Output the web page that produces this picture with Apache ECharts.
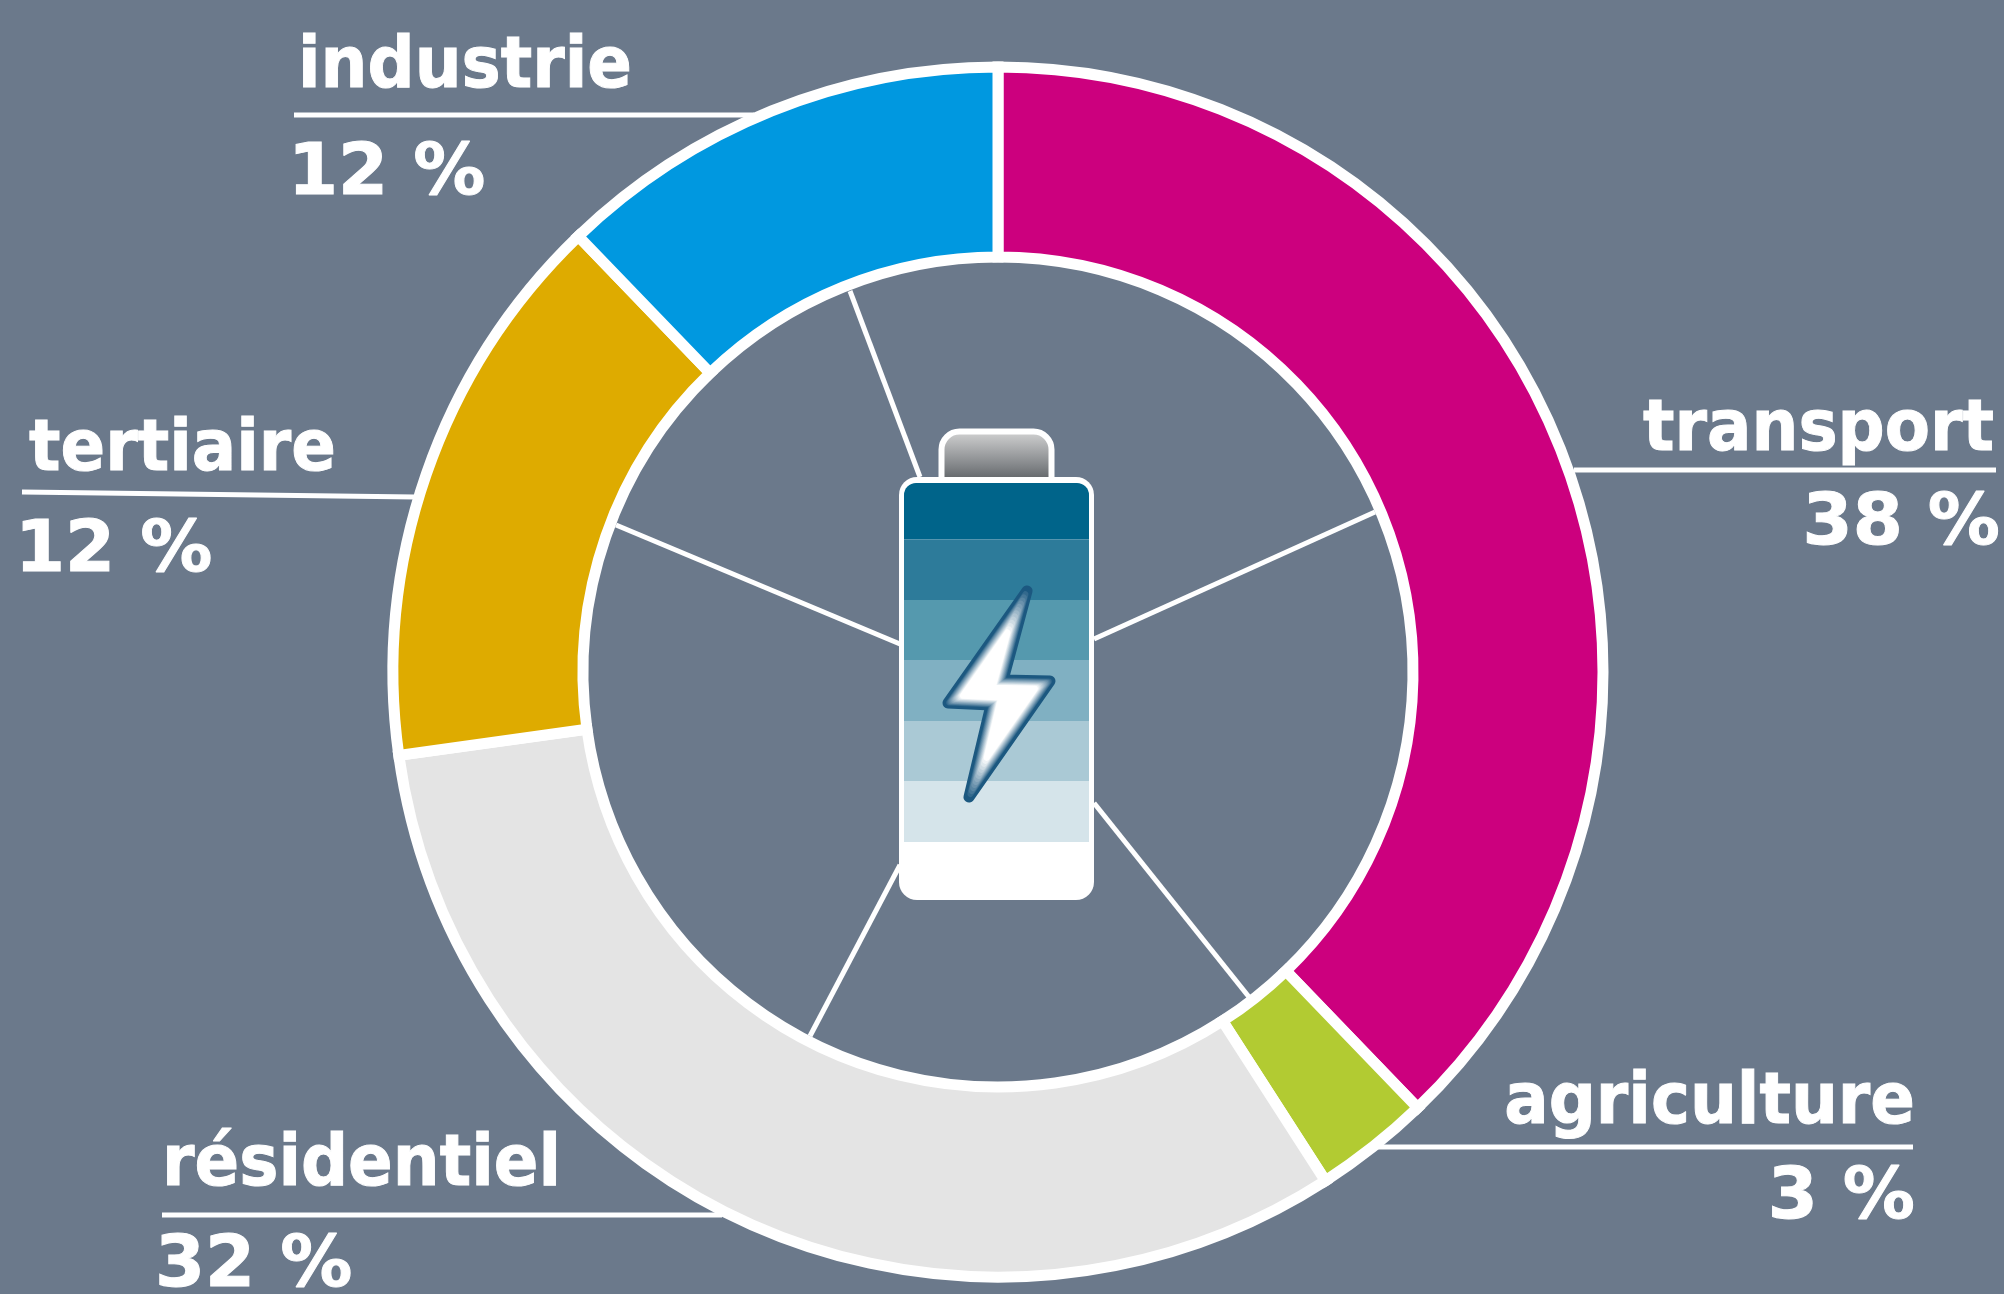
<!DOCTYPE html>
<html><head><meta charset="utf-8">
<style>html,body{margin:0;padding:0;background:#6b798b}#c{width:2004px;height:1294px}</style>
<script src="https://cdn.jsdelivr.net/npm/echarts@6/dist/echarts.min.js"></script>
</head><body><div id="c"></div>
<script>
const categories = ['transport','agriculture','résidentiel','tertiaire','industrie'];
const sliceShares = [37.8, 3.1, 31.9, 15.0, 12.2];
const printedPercent = ['38 %','3 %','32 %','12 %','12 %'];
const sliceColors = ['#cc007e','#b2cb32','#e4e4e4','#deab00','#0098e0'];
const bandColors = ['#00648a','#2d7b9a','#5599ae','#80b0c2','#aac9d5','#d5e4ea'];

const cx = 998, cy = 672;
const FONT = 'bold 72px "DejaVu Sans"';
const labelSpots = [
  {name:[1994,467,'right'], pct:[2000,561,'right'], line:[1574,470,1996,470]},
  {name:[1915,1140,'right'], pct:[1915,1235,'right'], line:[1374,1147,1913,1147]},
  {name:[162,1202,'left'], pct:[155,1303,'left'], line:[162,1215,722,1215]},
  {name:[29,487,'left'], pct:[15,588,'left'], line:[22,492,415,497]},
  {name:[298,104,'left'], pct:[288,211,'left'], line:[294,115,754,115]}
];
const spokes = [[850,291,920,477],[1375,512,1094,639],[1249,997,1094,803],[810,1036,900,865],[616,525,900,644]];
const g = [];
spokes.forEach(s=>g.push({type:'line',z:1,shape:{x1:s[0],y1:s[1],x2:s[2],y2:s[3]},style:{stroke:'#fff',lineWidth:5},silent:true}));
sliceShares.forEach((v,i)=>{
  const s = labelSpots[i];
  g.push({type:'line',z:1,shape:{x1:s.line[0],y1:s.line[1],x2:s.line[2],y2:s.line[3]},style:{stroke:'#fff',lineWidth:5},silent:true});
  g.push({type:'text',z:5,x:s.name[0],y:s.name[1],scaleX:.915,
    style:{text:categories[i],font:FONT,fill:'#fff',stroke:'#fff',lineWidth:1,textAlign:s.name[2],textVerticalAlign:'bottom'},silent:true});
  g.push({type:'text',z:5,x:s.pct[0],y:s.pct[1],
    style:{text:printedPercent[i],font:FONT,fill:'#fff',stroke:'#fff',lineWidth:1,textAlign:s.pct[2],textVerticalAlign:'bottom'},silent:true});
});
// battery
g.push({type:'rect',z:6,shape:{x:941.5,y:431.5,width:110,height:60,r:[18,18,0,0]},
  style:{fill:new echarts.graphic.LinearGradient(0,0,0,1,[{offset:0,color:'#d8d8d8'},{offset:.55,color:'#85888b'},{offset:.8,color:'#5e6265'},{offset:1,color:'#5e6265'}]),stroke:'#fff',lineWidth:6},silent:true});
g.push({type:'rect',z:7,shape:{x:899,y:477,width:195,height:423,r:18},style:{fill:'#fff'},silent:true});
const bandEdges=[483,539.5,600,660,721,781,842];
bandColors.forEach((c,i)=>{
  g.push({type:'rect',z:8,shape:{x:904,y:bandEdges[i],width:185,height:bandEdges[i+1]-bandEdges[i],r:i===0?[12,12,0,0]:0},style:{fill:c},silent:true});
});
// lightning bolt: dark rim fading into a white core
const boltOutline=[[1027,591],[1003,680],[1050,681],[969,797],[991,705],[948,703]];
function inset(pts,d){
  let area=0; pts.forEach((p,i)=>{const q=pts[(i+1)%pts.length];area+=p[0]*q[1]-q[0]*p[1];});
  const sgn=area>0?1:-1;
  return pts.map((p,i)=>{
    const a=pts[(i+pts.length-1)%pts.length], b=pts[(i+1)%pts.length];
    const n=(u,v)=>{const dx=v[0]-u[0],dy=v[1]-u[1],l=Math.hypot(dx,dy);return [-dy/l*sgn,dx/l*sgn];};
    const n1=n(a,p), n2=n(p,b);
    const mx=n1[0]+n2[0], my=n1[1]+n2[1], k=d/(1+n1[0]*n2[0]+n1[1]*n2[1]);
    return [p[0]+mx*k,p[1]+my*k];
  });
}
const LAYERS=14;
for(let k=0;k<LAYERS;k++){
  const t=k/(LAYERS-1), e=Math.pow(t,.9);
  const col=`rgb(${Math.round(28+227*e)},${Math.round(88+167*e)},${Math.round(128+127*e)})`;
  g.push({type:'polygon',z:9,shape:{points:inset(boltOutline,t*8)},
    style:{fill:col,stroke:col,lineWidth:k===0?11:6,lineJoin:'round'},silent:true});
}

const chart = echarts.init(document.getElementById('c'),null,{renderer:'canvas'});
chart.setOption({
  animation:false,
  backgroundColor:'#6b798b',
  graphic:{elements:g},
  series:[{type:'pie',center:[cx,cy],radius:[415,605],startAngle:90,clockwise:true,silent:true,z:3,
    label:{show:false},labelLine:{show:false},
    itemStyle:{borderColor:'#fff',borderWidth:11,borderJoin:'miter'},
    data:categories.map((n,i)=>({name:n,value:sliceShares[i],itemStyle:{color:sliceColors[i]}}))}]
});
</script></body></html>
